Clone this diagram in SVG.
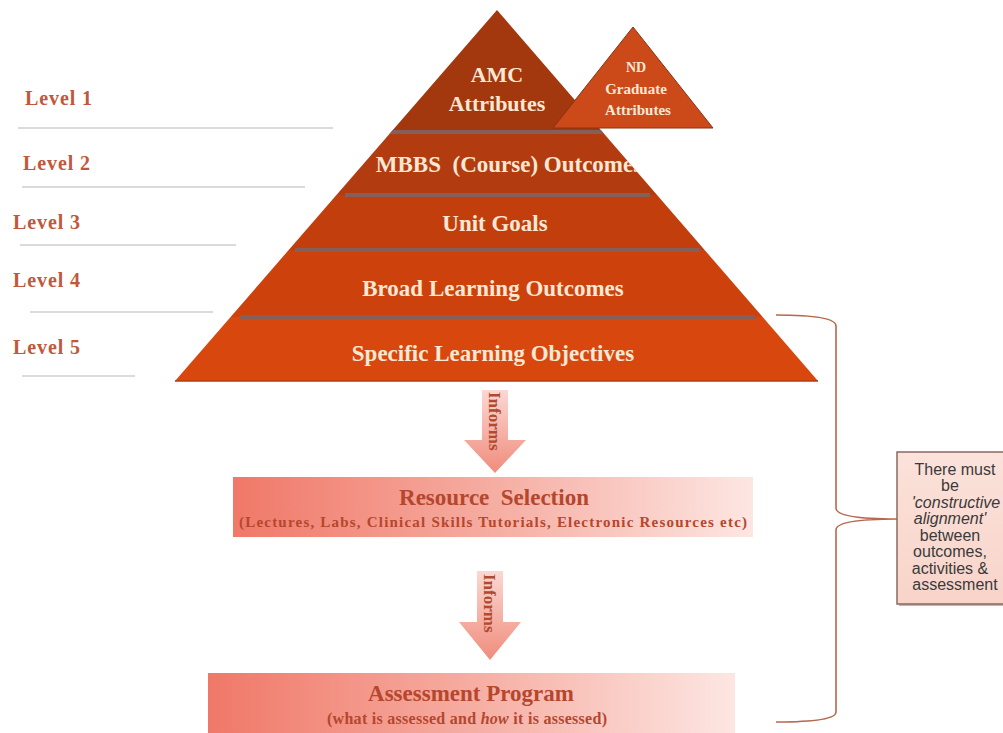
<svg xmlns="http://www.w3.org/2000/svg" width="1003" height="733" viewBox="0 0 1003 733">
<defs>
<style>
.lvl{font-family:"Liberation Serif",serif;font-weight:bold;font-size:20px;letter-spacing:0.9px;fill:#c0583c}
.lvline{stroke:#cfcfcf;stroke-width:1.5}
.pt{font-family:"Liberation Serif",serif;font-weight:bold;fill:#fbe8d4;text-anchor:middle}
.bx{font-family:"Liberation Serif",serif;font-weight:bold;fill:#b4472e;text-anchor:middle}
.inf{font-family:"Liberation Serif",serif;font-weight:bold;font-size:17px;fill:#b04a30;text-anchor:start}
.div{stroke:#85605a;stroke-width:4}
.note{font-family:"Liberation Sans",Arial,sans-serif;font-size:16px;fill:#3a3a3a;text-anchor:middle}
</style>
<clipPath id="tri"><polygon points="497,10 175,381 818,381"/></clipPath>
<linearGradient id="boxg" x1="0" y1="0" x2="1" y2="0">
<stop offset="0" stop-color="#f07868"/>
<stop offset="0.5" stop-color="#f6ada2"/>
<stop offset="1" stop-color="#fde6e2"/>
</linearGradient>
<linearGradient id="arrg" x1="0" y1="0" x2="0" y2="1">
<stop offset="0" stop-color="#fbd8d2"/>
<stop offset="1" stop-color="#f08c7c"/>
</linearGradient>
<linearGradient id="noteg" x1="0" y1="0" x2="0" y2="1">
<stop offset="0" stop-color="#fbe2da"/>
<stop offset="1" stop-color="#f8d4ca"/>
</linearGradient>
</defs>
<rect width="1003" height="733" fill="#ffffff"/>

<g id="levels">
<text class="lvl" x="25" y="105">Level 1</text>
<line class="lvline" x1="18" y1="128" x2="333" y2="128"/>
<text class="lvl" x="23" y="170">Level 2</text>
<line class="lvline" x1="22" y1="187" x2="305" y2="187"/>
<text class="lvl" x="13" y="229">Level 3</text>
<line class="lvline" x1="20" y1="245" x2="236" y2="245"/>
<text class="lvl" x="13" y="287">Level 4</text>
<line class="lvline" x1="30" y1="312" x2="213" y2="312"/>
<text class="lvl" x="13" y="354">Level 5</text>
<line class="lvline" x1="22" y1="376" x2="135" y2="376"/>
</g>

<g id="pyramid">
<g clip-path="url(#tri)">
<rect x="170" y="0" width="660" height="132" fill="#a3380f"/>
<rect x="170" y="132" width="660" height="63" fill="#b33b10"/>
<rect x="170" y="195" width="660" height="55" fill="#c23e0d"/>
<rect x="170" y="250" width="660" height="67" fill="#cd420c"/>
<rect x="170" y="317" width="660" height="64" fill="#d8470e"/>
<line class="div" x1="385" y1="132" x2="610" y2="132"/>
<line class="div" x1="345" y1="195" x2="650" y2="195"/>
<line class="div" x1="295" y1="250" x2="700" y2="250"/>
<line class="div" x1="240" y1="317" x2="755" y2="317"/>
</g>
<line x1="175" y1="381" x2="818" y2="381" stroke="#b83a10" stroke-width="1.5"/>
</g>

<g id="amc">
<text class="pt" x="497" y="82" font-size="22">AMC</text>
<text class="pt" x="497" y="111" font-size="22">Attributes</text>
</g>

<g id="nd">
<polygon points="633,27 553,128 713,128" fill="#cc4a1a" stroke="#8a3212" stroke-width="1"/>
<text class="pt" x="636" y="72" font-size="14">ND</text>
<text class="pt" x="636" y="94" font-size="15">Graduate</text>
<text class="pt" x="638" y="115" font-size="15">Attributes</text>
</g>

<g id="mbbs"><text class="pt" x="509" y="172" font-size="23" clip-path="url(#tri)">MBBS&#160; (Course) Outcomes</text></g>
<g id="unit"><text class="pt" x="495" y="231" font-size="23">Unit Goals</text></g>
<g id="broad"><text class="pt" x="493" y="296" font-size="23">Broad Learning Outcomes</text></g>
<g id="specific"><text class="pt" x="493" y="361" font-size="23">Specific Learning Objectives</text></g>

<g id="connectors">
<g id="arrow1">
<polygon points="482,390 508,390 508,440 526,440 495,473 464,440 482,440" fill="url(#arrg)"/>
<text class="inf" transform="translate(489,392) rotate(90)">Informs</text>
</g>
<g id="arrow2">
<polygon points="477,571 503,571 503,622 521,622 490,660 459,622 477,622" fill="url(#arrg)"/>
<text class="inf" transform="translate(484,574) rotate(90)">Informs</text>
</g>
<path d="M776,315 Q836,315 836,326 L836,508 Q836,519 897,519 Q836,519 836,530 L836,712 Q836,722 776,722" fill="none" stroke="#b8684e" stroke-width="1.6"/>
</g>

<g id="resource">
<rect x="233" y="477" width="520" height="60" fill="url(#boxg)"/>
<text class="bx" x="494" y="505" font-size="23">Resource&#160; Selection</text>
<text class="bx" x="493" y="527" font-size="15" textLength="508" lengthAdjust="spacing">(Lectures, Labs, Clinical Skills Tutorials, Electronic Resources etc)</text>
</g>

<g id="assessment">
<rect x="208" y="673" width="527" height="60" fill="url(#boxg)"/>
<text class="bx" x="471" y="701" font-size="23">Assessment Program</text>
<text class="bx" x="467" y="724" font-size="16" textLength="280" lengthAdjust="spacing">(what is assessed and <tspan font-style="italic">how</tspan> it is assessed)</text>
</g>

<g id="note">
<rect x="899" y="454" width="110" height="152" fill="#8a6a60" opacity="0.5"/>
<rect x="897" y="452" width="110" height="152" fill="url(#noteg)" stroke="#8a6a62" stroke-width="1.5"/>
<text class="note" x="955" y="475">There must</text>
<text class="note" x="950" y="491">be</text>
<text class="note" x="956" y="508" font-style="italic">'constructive</text>
<text class="note" x="950" y="524" font-style="italic">alignment'</text>
<text class="note" x="950" y="541">between</text>
<text class="note" x="950" y="557">outcomes,</text>
<text class="note" x="950" y="574">activities &amp;</text>
<text class="note" x="955" y="590">assessment</text>
</g>
</svg>
